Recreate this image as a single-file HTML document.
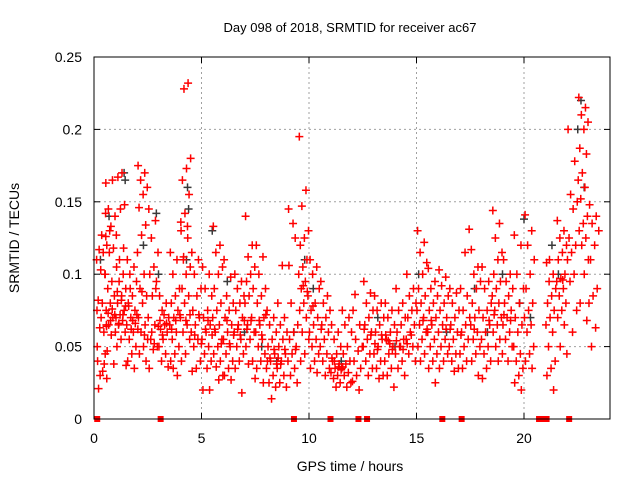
<!DOCTYPE html>
<html><head><meta charset="utf-8"><style>
body{margin:0;background:#fff}
svg{display:block;font-family:"Liberation Sans",sans-serif}
</style></head><body>
<svg id="chart" width="640" height="480" viewBox="0 0 640 480">
<rect x="0" y="0" width="640" height="480" fill="#fff"/>
<text x="350" y="32" font-size="13" text-anchor="middle" fill="#000">Day 098 of 2018, SRMTID for receiver ac67</text>
<text x="350" y="471" font-size="14" text-anchor="middle" fill="#000">GPS time / hours</text>
<text x="19" y="238" font-size="14" text-anchor="middle" transform="rotate(-90 19 238)" fill="#000">SRMTID / TECUs</text>
<g id="grid"></g><g id="ticks"></g><g id="black"></g><g id="red"></g><g id="squares"></g>
<rect x="94" y="57" width="516" height="362" fill="none" stroke="#000" stroke-width="1"/>
</svg>
<script>
const xTicks=[0,5,10,15,20];
const yTicks=[0,0.05,0.1,0.15,0.2,0.25];
const yTickLabels=["0","0.05","0.1","0.15","0.2","0.25"];
const binStart=[0.1,0.5,1.0,1.5,2.0,2.5,3.0,3.5,4.0,4.5,5.0,5.5,6.0,6.5,7.0,7.5,8.0,8.5,9.0,9.5,10.0,10.5,11.0,11.5,12.0,12.5,13.0,13.5,14.0,14.5,15.0,15.5,16.0,16.5,17.0,17.5,18.0,18.5,19.0,19.5,20.0,21.0,21.5,22.0,22.5,23.0];
const binValues=[
[.05,.06,.063,.065,.08,.082,.1,.103,.11,.115,.117,.126,.127,.04,.038,.03,.028,.033,.021,.045,.07,.075],
[.163,.165,.145,.14,.133,.12,.118,.115,.1,.095,.09,.085,.08,.075,.07,.065,.06,.058,.047,.038,.13,.142,.076,.073,.072,.068,.064],
[.105,.1,.095,.09,.085,.08,.075,.072,.07,.068,.065,.06,.055,.05,.118,.11,.037,.17,.167,.148,.145,.127,.072,.066,.078,.082,.088],
[.11,.105,.1,.095,.085,.08,.075,.07,.065,.06,.055,.05,.045,.04,.035,.09,.072,.068,.078,.066,.062],
[.175,.17,.165,.16,.155,.146,.134,.127,.115,.1,.09,.085,.08,.07,.065,.06,.055,.05,.045,.04,.088,.062,.058],
[.145,.137,.125,.115,.105,.1,.095,.085,.07,.065,.055,.05,.048,.035,.09,.06,.064,.052],
[.085,.08,.075,.07,.065,.062,.06,.055,.05,.045,.04,.036,.072,.068,.066,.058],
[.115,.11,.1,.09,.085,.08,.075,.07,.065,.06,.055,.05,.045,.04,.03,.035,.072,.068,.062],
[.13,.125,.112,.105,.1,.09,.085,.08,.07,.065,.06,.055,.045,.04,.232,.228,.18,.173,.165,.155,.142,.136,.133,.11,.072,.068],
[.115,.11,.1,.09,.085,.075,.07,.065,.06,.055,.05,.04,.035,.033,.072,.058,.052],
[.105,.1,.09,.085,.075,.07,.065,.06,.055,.05,.045,.04,.035,.02,.02,.062,.058,.068],
[.133,.12,.115,.105,.1,.09,.08,.075,.07,.065,.06,.055,.05,.045,.04,.036,.03,.027,.062,.052],
[.11,.098,.085,.08,.075,.07,.065,.06,.055,.05,.045,.04,.035,.03,.027,.068,.058,.052],
[.1,.095,.09,.085,.08,.075,.07,.065,.06,.055,.05,.045,.04,.035,.018,.062,.068,.058],
[.14,.12,.112,.105,.1,.095,.09,.085,.08,.07,.065,.06,.055,.05,.04,.038,.028,.068,.062],
[.12,.112,.1,.09,.085,.08,.07,.065,.06,.055,.05,.045,.04,.035,.025,.068,.072,.058],
[.075,.07,.065,.06,.055,.05,.045,.04,.035,.03,.025,.022,.014,.04,.048,.042,.038],
[.08,.07,.065,.06,.055,.05,.045,.04,.035,.03,.025,.022,.106,.042,.048,.038],
[.145,.125,.08,.065,.06,.055,.05,.045,.04,.035,.03,.025,.135,.106,.048],
[.195,.158,.147,.13,.125,.12,.11,.105,.1,.095,.09,.085,.08,.075,.07,.06,.055,.045,.04,.088,.092],
[.11,.105,.1,.09,.08,.075,.07,.065,.06,.055,.05,.045,.04,.035,.032,.078],
[.095,.085,.08,.075,.07,.065,.06,.055,.05,.045,.04,.035,.03,.062],
[.065,.06,.055,.05,.045,.04,.038,.035,.032,.03,.028,.025,.022,.042,.036,.04,.034],
[.075,.07,.065,.06,.05,.045,.04,.038,.035,.032,.03,.025,.022,.036],
[.075,.065,.055,.05,.047,.04,.035,.03,.026,.02,.086],
[.095,.087,.08,.075,.07,.065,.06,.055,.05,.045,.04,.035,.03,.062,.058],
[.085,.08,.075,.07,.065,.06,.055,.05,.045,.04,.035,.03,.028,.052,.058,.048],
[.08,.075,.07,.065,.06,.055,.05,.045,.04,.035,.03,.022,.052,.058,.048,.054],
[.09,.08,.075,.07,.065,.06,.055,.05,.045,.04,.035,.03,.05,.054,.048],
[.1,.09,.085,.08,.075,.07,.065,.06,.055,.05,.045,.04,.058,.052],
[.13,.122,.115,.108,.1,.09,.085,.08,.075,.07,.065,.06,.055,.05,.045,.04,.062,.068],
[.104,.095,.09,.085,.08,.075,.07,.065,.06,.055,.05,.045,.04,.035,.025,.068],
[.103,.098,.092,.085,.08,.075,.07,.065,.06,.055,.05,.045,.04,.035,.062],
[.09,.087,.08,.075,.07,.065,.06,.055,.05,.045,.04,.035,.033,.062],
[.09,.085,.075,.07,.065,.06,.055,.05,.045,.04,.035,.131,.115,.058],
[.117,.105,.1,.095,.09,.08,.075,.07,.065,.06,.055,.05,.045,.04,.03,.062],
[.105,.095,.09,.08,.075,.07,.065,.06,.055,.05,.045,.04,.035,.028,.068],
[.144,.135,.125,.115,.11,.1,.095,.09,.085,.08,.075,.07,.065,.06,.055,.05,.045,.04,.072],
[.11,.1,.095,.09,.085,.08,.075,.07,.065,.06,.055,.05,.04,.072,.068],
[.127,.12,.1,.09,.08,.07,.065,.06,.05,.045,.04,.035,.03,.025,.02],
[.141,.13,.12,.11,.1,.09,.08,.075,.07,.065,.06,.05,.045,.04,.035],
[.108,.1,.095,.09,.085,.08,.075,.07,.065,.06,.05,.04,.035,.03,.02,.11],
[.137,.13,.125,.12,.115,.11,.1,.097,.095,.09,.085,.08,.075,.07,.065,.05,.045,.096],
[.2,.178,.155,.15,.145,.125,.12,.115,.11,.1,.095,.075,.06],
[.222,.215,.21,.205,.2,.187,.183,.17,.165,.16,.152,.14,.135,.13,.125,.12,.11,.1,.08,.068],
[.148,.14,.135,.13,.12,.11,.09,.085,.08,.063,.05]
];
const blackHours=[0.3,0.7,1.4,1.45,2.3,2.9,3.0,4.35,4.4,4.3,5.5,6.2,7.0,7.8,8.5,9.3,9.8,10.2,11.5,13.2,14.0,15.1,16.4,17.7,18.3,19.0,19.8,20.0,20.3,21.3,21.6,22.5,22.65,22.8];
const blackValues=[0.11,0.14,0.17,0.165,0.12,0.142,0.1,0.16,0.145,0.11,0.13,0.095,0.06,0.05,0.04,0.06,0.11,0.09,0.04,0.07,0.05,0.1,0.06,0.09,0.06,0.1,0.08,0.138,0.07,0.12,0.1,0.2,0.22,0.16];
const squareHours=[0.15,3.1,9.3,11.0,12.3,12.7,16.2,17.1,20.7,20.85,21.05,22.1];

const NS="http://www.w3.org/2000/svg";
const X0=94,X1=610,Y0=419,Y1=57,XMAX=24,YMAX=0.25;
function sx(h){return X0+(X1-X0)*h/XMAX;}
function sy(v){return Y0-(Y0-Y1)*v/YMAX;}
function mk(tag,attrs,parent){const e=document.createElementNS(NS,tag);for(const k in attrs)e.setAttribute(k,attrs[k]);parent.appendChild(e);return e;}
const grid=document.getElementById('grid'),ticks=document.getElementById('ticks');
xTicks.forEach((t,i)=>{
  const x=sx(t);
  if(t>0){const g=mk('line',{x1:x,x2:x,y1:Y1,y2:Y0,stroke:'#a0a0a0','stroke-dasharray':'2,3'},grid);
  
  }
  mk('line',{x1:x,x2:x,y1:Y0,y2:Y0-6,stroke:'#000'},ticks);
  mk('line',{x1:x,x2:x,y1:Y1,y2:Y1+6,stroke:'#000'},ticks);
  const l=mk('text',{x:x,y:443,'font-size':14,'text-anchor':'middle',fill:'#000'},ticks);
  l.textContent=String(t);
  
  
});
yTicks.forEach((t,i)=>{
  const y=sy(t);
  if(t>0&&t<YMAX){const g=mk('line',{x1:X0,x2:X1,y1:y,y2:y,stroke:'#a0a0a0','stroke-dasharray':'2,3'},grid);
  
  }
  mk('line',{x1:X0,x2:X0+6,y1:y,y2:y,stroke:'#000'},ticks);
  mk('line',{x1:X1,x2:X1-6,y1:y,y2:y,stroke:'#000'},ticks);
  const l=mk('text',{x:82,y:y+5,'font-size':14,'text-anchor':'end',fill:'#000'},ticks);
  l.textContent=yTickLabels[i];
  
  
});
function plus(h,v,color,parent){
  const x=sx(h),y=sy(v);
  return mk('path',{d:`M${x-4} ${y}H${x+4}M${x} ${y-4}V${y+4}`,stroke:color,'stroke-width':1.5,fill:'none'},parent);
}
const bg=document.getElementById('black');
blackHours.forEach((h,i)=>{
  const p=plus(h,blackValues[i],'#3a3a3a',bg);
  
  
});
const rg=document.getElementById('red');
binStart.forEach((b,i)=>{
  binValues[i].forEach((v,j)=>{
    const h=b+((j*0.618+0.1)%1)*0.5;
    const p=plus(h,v,'#ff0000',rg);
    
    
  });
});
const sg=document.getElementById('squares');
squareHours.forEach(h=>{
  const r=mk('rect',{x:sx(h)-3,y:Y0-3,width:6,height:6,fill:'#ff0000'},sg);
  
  
});
</script>
</body></html>
